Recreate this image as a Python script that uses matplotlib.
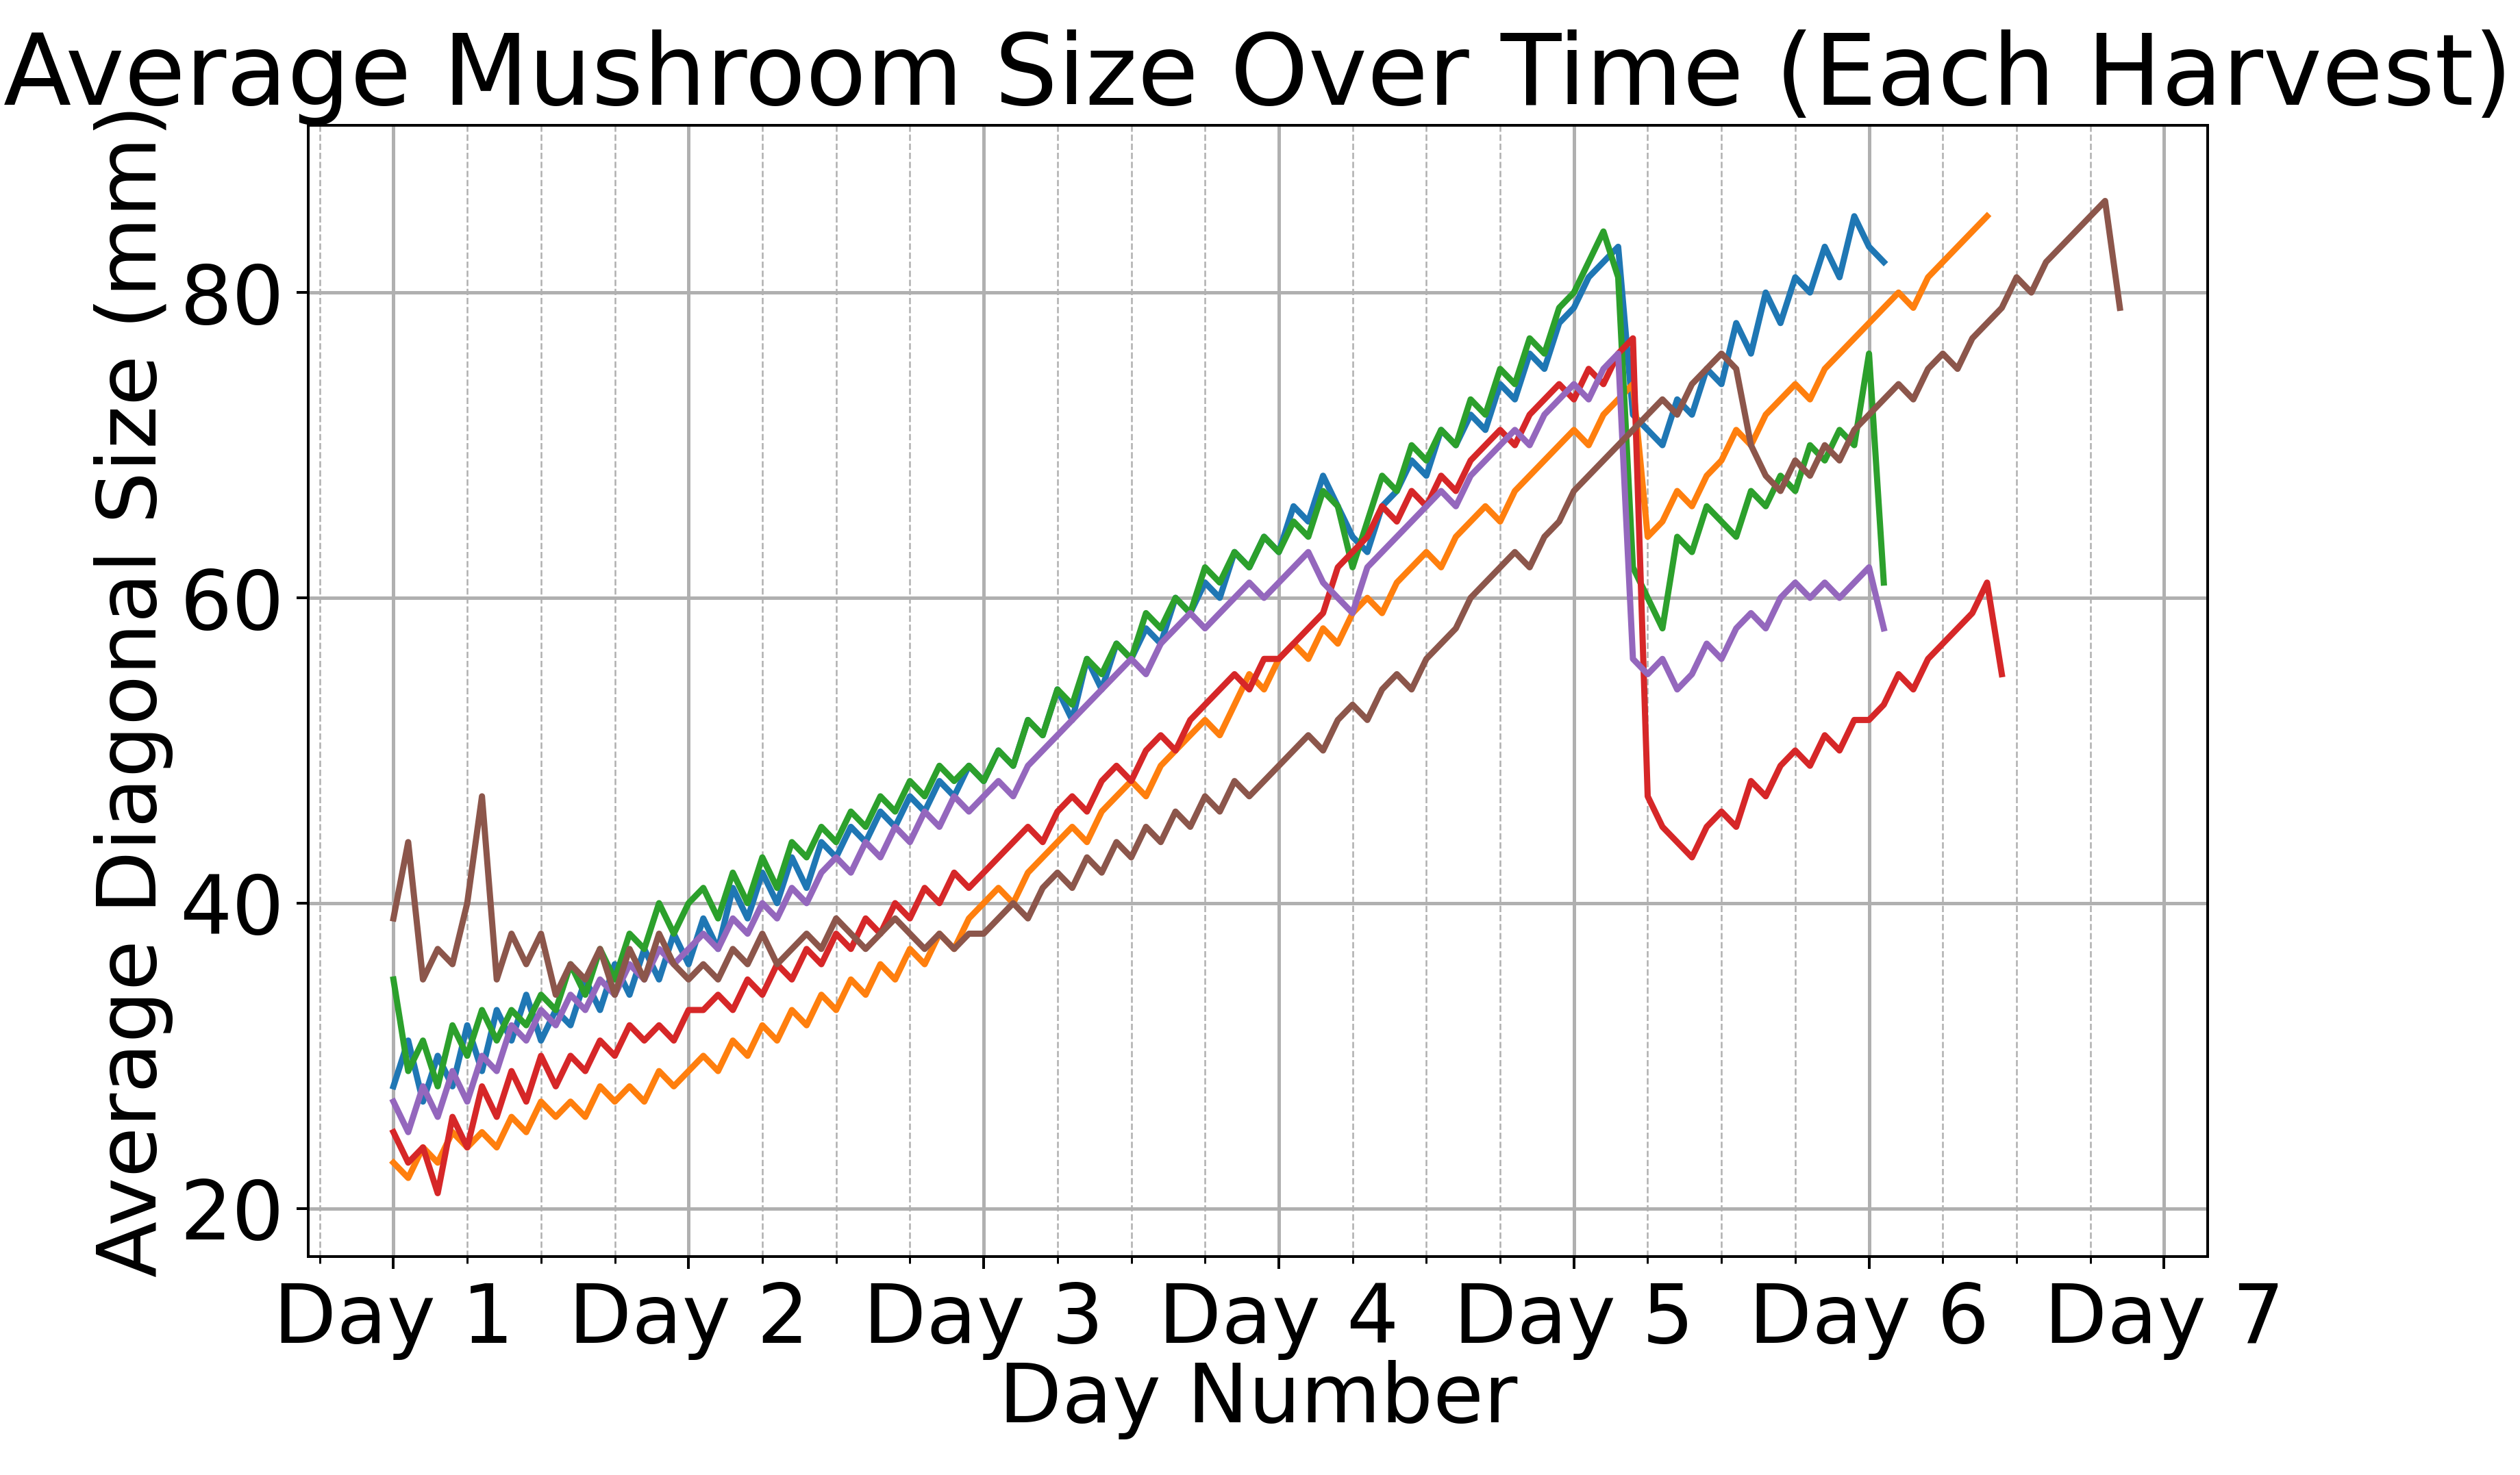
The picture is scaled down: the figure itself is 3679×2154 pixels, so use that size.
import numpy as np
import matplotlib
matplotlib.use("Agg")
import matplotlib.pyplot as plt
from matplotlib.ticker import MultipleLocator

day_start = 1.0
step = 0.05

blue = [28,31,27,30,28,32,29,33,31,34,31,33,32,35,33,36,34,37,35,38,36,
        39,37,41,39,42,40,43,41,44,43,45,44,46,45,47,46,48,47,49,
        48,50,49,52,51,54,52,56,54,57,56,58,57,60,59,61,60,63,62,64,
        63,66,65,68,66,64,63,66,67,69,68,71,70,72,71,74,73,76,75,78,
        79,81,82,83,72,71,70,73,72,75,74,78,76,80,78,81,80,83,81,85,
        83,82]
orange = [23,22,24,23,25,24,25,24,26,25,27,26,27,26,28,27,28,27,29,28,29,
          30,29,31,30,32,31,33,32,34,33,35,34,36,35,37,36,38,37,39,
          40,41,40,42,43,44,45,44,46,47,48,47,49,50,51,52,51,53,55,54,
          56,57,56,58,57,59,60,59,61,62,63,62,64,65,66,65,67,68,69,70,
          71,70,72,73,74,64,65,67,66,68,69,71,70,72,73,74,73,75,76,77,
          78,79,80,79,81,82,83,84,85]
green = [35,29,31,28,32,30,33,31,33,32,34,33,36,34,37,35,38,37,40,38,40,
         41,39,42,40,43,41,44,43,45,44,46,45,47,46,48,47,49,48,49,
         48,50,49,52,51,54,53,56,55,57,56,59,58,60,59,62,61,63,62,64,
         63,65,64,67,66,62,65,68,67,70,69,71,70,73,72,75,74,77,76,79,
         80,82,84,81,62,60,58,64,63,66,65,64,67,66,68,67,70,69,71,70,
         76,61]
red = [25,23,24,21,26,24,28,26,29,27,30,28,30,29,31,30,32,31,32,31,33,
       33,34,33,35,34,36,35,37,36,38,37,39,38,40,39,41,40,42,41,
       42,43,44,45,44,46,47,46,48,49,48,50,51,50,52,53,54,55,54,56,
       56,57,58,59,62,63,64,66,65,67,66,68,67,69,70,71,70,72,73,74,
       73,75,74,76,77,47,45,44,43,45,46,45,48,47,49,50,49,51,50,52,
       52,53,55,54,56,57,58,59,61,55]
purple = [27,25,28,26,29,27,30,29,32,31,33,32,34,33,35,34,36,35,37,36,37,
          38,37,39,38,40,39,41,40,42,43,42,44,43,45,44,46,45,47,46,
          47,48,47,49,50,51,52,53,54,55,56,55,57,58,59,58,59,60,61,60,
          61,62,63,61,60,59,62,63,64,65,66,67,66,68,69,70,71,70,72,73,
          74,73,75,76,56,55,56,54,55,57,56,58,59,58,60,61,60,61,60,61,
          62,58]
brown = [39,44,35,37,36,40,47,35,38,36,38,34,36,35,37,34,37,35,38,36,35,
         36,35,37,36,38,36,37,38,37,39,38,37,38,39,38,37,38,37,38,
         38,39,40,39,41,42,41,43,42,44,43,45,44,46,45,47,46,48,47,48,
         49,50,51,50,52,53,52,54,55,54,56,57,58,60,61,62,63,62,64,65,
         67,68,69,70,71,72,73,72,74,75,76,75,70,68,67,69,68,70,69,71,
         72,73,74,73,75,76,75,77,78,79,81,80,82,83,84,85,86,79]

series = [blue, orange, green, red, purple, brown]
colors = ["#1f77b4", "#ff7f0e", "#2ca02c", "#d62728", "#9467bd", "#8c564b"]
day_ticks = [1, 2, 3, 4, 5, 6, 7]
day_labels = ["Day 1", "Day 2", "Day 3", "Day 4", "Day 5", "Day 6", "Day 7"]

fig = plt.figure(figsize=(3679/360, 2154/360), dpi=360)
ax = fig.add_axes([0.1224, 0.148, 0.7536, 0.767])
for vals, c in zip(series, colors):
    x = day_start + step * np.arange(len(vals))
    ax.plot(x, vals, color=c, linewidth=1.8)

ax.set_xlim(0.712, 7.147)
ax.set_ylim(16.84, 90.95)
ax.set_xticks(day_ticks)
ax.set_xticklabels(day_labels)
ax.xaxis.set_minor_locator(MultipleLocator(0.25))
ax.yaxis.set_major_locator(MultipleLocator(20))
ax.grid(True, which="major", color="#b0b0b0", linewidth=1.0)
ax.grid(True, which="minor", axis="x", color="#b0b0b0", linestyle="--", linewidth=0.5)
ax.tick_params(labelsize=24)
ax.set_xlabel("Day Number", fontsize=24, labelpad=0)
ax.set_ylabel("Average Diagonal Size (mm)", fontsize=24, labelpad=2)
ax.set_title("Average Mushroom Size Over Time (Each Harvest)", fontsize=29)
fig.savefig("out.png", dpi=360)
